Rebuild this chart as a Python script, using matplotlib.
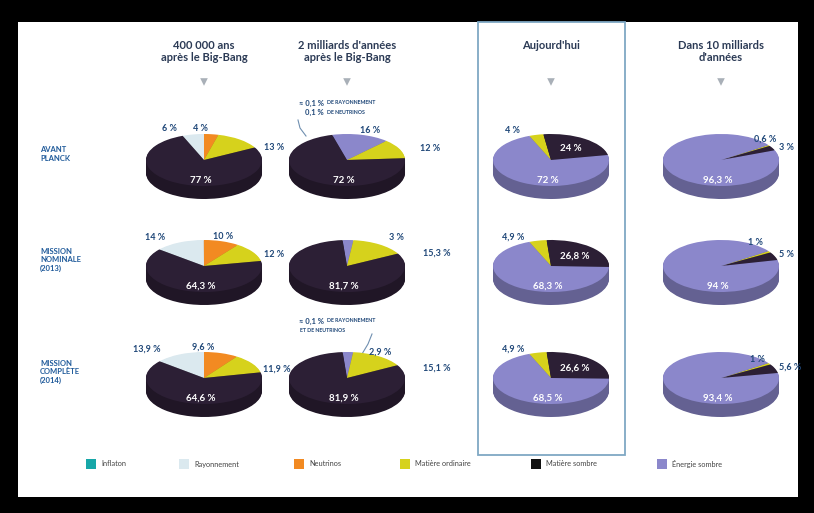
import numpy as np
import matplotlib
matplotlib.use("Agg")
import matplotlib.pyplot as plt
from matplotlib.patches import Rectangle
from matplotlib.colors import to_rgb

W, H = 814, 513

# legend order
components = ["Inflaton", "Rayonnement", "Neutrinos", "Matière ordinaire", "Matière sombre", "Énergie sombre"]
comp_colors = ["#17a7a8", "#dbe9ef", "#f28a22", "#d6d21c", "#2c1f35", "#8b87cb"]
legend_colors = ["#17a7a8", "#dbe9ef", "#f28a22", "#d6d21c", "#111111", "#8b87cb"]

periods = ["400 000 ans\naprès le Big-Bang", "2 milliards d'années\naprès le Big-Bang",
           "Aujourd'hui", "Dans 10 milliards\nd'années"]
missions = ["AVANT\nPLANCK", "MISSION\nNOMINALE\n(2013)", "MISSION\nCOMPLÈTE\n(2014)"]

# slice order (clockwise) per period
order_400k = ["Rayonnement", "Neutrinos", "Matière ordinaire", "Matière sombre"]
order_2g = ["Énergie sombre", "Matière ordinaire", "Matière sombre"]
order_now = ["Matière ordinaire", "Matière sombre", "Énergie sombre"]
order_10g = ["Matière ordinaire", "Matière sombre", "Énergie sombre"]

# values (%) per mission row
vals_400k = [[6, 4, 13, 77], [14, 10, 12, 64.3], [13.9, 9.6, 11.9, 64.6]]
vals_2g = [[16, 12, 72], [3, 15.3, 81.7], [2.9, 15.1, 81.9]]
vals_now = [[4, 24, 72], [4.9, 26.8, 68.3], [4.9, 26.6, 68.5]]
vals_10g = [[0.6, 3, 96.3], [1, 5, 94], [1, 5.6, 93.4]]

notes_2g = ["≈ 0,1 %|DE RAYONNEMENT\n0,1 %|DE NEUTRINOS", "", "≈ 0,1 %|DE RAYONNEMENT\n|ET DE NEUTRINOS"]

# layout: where the small-slice labels sit (pie radius units, from top-face centre)
lbl_400k = [[(-0.59, 1.22), (-0.07, 1.22), (1.2, 0.5)],
            [(-0.85, 1.08), (0.33, 1.15), (1.2, 0.45)],
            [(-0.98, 1.12), (-0.02, 1.18), (1.25, 0.35)]]
lbl_2g = [[(0.4, 1.15), (1.43, 0.46)],
          [(0.86, 1.08), (1.55, 0.5)],
          [(0.57, 1.0), (1.55, 0.38)]]
lbl_now = [[(-0.66, 1.15)], [(-0.66, 1.12)], [(-0.66, 1.12)]]
lbl_10g = [[(0.76, 0.8), (1.12, 0.5)],
           [(0.6, 0.92), (1.12, 0.46)],
           [(0.62, 0.7), (1.2, 0.4)]]

col_x = [204, 347, 551, 721]
row_y = [160, 266, 378]
RX, RY, DEPTH = 58, 26, 13
navy = "#1f4778"
FONT = "Lato"

fig = plt.figure(figsize=(W / 100, H / 100), dpi=100, facecolor="black")
bg = fig.add_axes([0, 0, 1, 1])
bg.set_xlim(0, W)
bg.set_ylim(H, 0)
bg.axis("off")
bg.add_patch(Rectangle((18, 22), 780, 475, facecolor="white", edgecolor="none"))
# highlighted column "Aujourd'hui"
bg.add_patch(Rectangle((478, 22), 147, 433, facecolor="none", edgecolor="#7fa8c4", lw=1.3))


def fmt(v):
    return ("%g" % v).replace(".", ",") + " %"


def pie3d(cx, cy, names, vals, start, lbl):
    aw, ah = 160, 120
    ax = fig.add_axes([(cx - aw / 2) / W, 1 - (cy + ah / 2) / H, aw / W, ah / H])
    cols = [comp_colors[components.index(n)] for n in names]
    side = [tuple(c * 0.72 for c in to_rgb(col)) for col in cols]
    d = DEPTH / RY
    nl = 16
    for k in range(nl):
        ax.pie(vals, colors=side, startangle=start, counterclock=False,
               center=(0, -d + d * k / nl), wedgeprops=dict(linewidth=0))
    ax.pie(vals, colors=cols, startangle=start, counterclock=False,
           center=(0, 0), wedgeprops=dict(linewidth=0))
    ax.set_aspect("auto")
    ax.set_xlim(-aw / 2 / RX, aw / 2 / RX)
    ax.set_ylim(-ah / 2 / RY, ah / 2 / RY)
    ax.axis("off")
    total = sum(vals)
    big = int(np.argmax(vals))
    cum = 0
    k = 0
    for i, v in enumerate(vals):
        th = np.deg2rad(start - (cum + v / 2) / total * 360)
        cum += v
        if i == big:
            ax.text(-0.05, -0.78, fmt(v), color="white", fontsize=7, fontweight="bold",
                    ha="center", va="center", family=FONT)
        elif v >= 20:
            ax.text(0.6 * np.cos(th), 0.55 * np.sin(th), fmt(v), color="white", fontsize=7,
                    fontweight="bold", ha="center", va="center", family=FONT)
        else:
            x, y = lbl[k]
            k += 1
            ax.text(x, y, fmt(v), color=navy, fontsize=6.5, fontweight="bold",
                    ha="center", va="center", family=FONT)
    return ax


for r in range(3):
    pie3d(col_x[0], row_y[r], order_400k, vals_400k[r], 90 + vals_400k[r][0] * 3.6, lbl_400k[r])
    pie3d(col_x[1], row_y[r], order_2g, vals_2g[r], 92 + vals_2g[r][0] * 0.8, lbl_2g[r])
    pie3d(col_x[2], row_y[r], order_now, vals_now[r], 112, lbl_now[r])
    pie3d(col_x[3], row_y[r], order_10g, vals_10g[r], 35, lbl_10g[r])

# headers
for x, p in zip(col_x, periods):
    bg.text(x, 40, p, ha="center", va="top", fontsize=8, fontweight="bold",
            color="#2b3a55", family=FONT, linespacing=1.15)
    bg.scatter([x], [82], marker="v", s=30, color="#a9b0b8", edgecolor="none")

# row labels
for y, m in zip(row_y, missions):
    bg.text(40, y - 6, m, ha="left", va="center", fontsize=5.5, fontweight="bold",
            color="#1f5a9a", family=FONT, linespacing=1.3)

# notes on the 2 milliards column
for r, note in enumerate(notes_2g):
    if not note:
        continue
    y0 = row_y[r] - 57
    for j, line in enumerate(note.split("\n")):
        a, b = line.split("|")
        yy = y0 + j * 9
        bg.text(324, yy, a, ha="right", va="center", fontsize=5.5, fontweight="bold",
                color=navy, family=FONT)
        bg.text(327 if a else 300, yy, b, ha="left", va="center", fontsize=3.8,
                fontweight="bold", color=navy, family=FONT)
bg.plot([298, 300, 306], [row_y[0] - 40, row_y[0] - 32, row_y[0] - 24], color="#6f8fb0", lw=0.8)
bg.plot([372, 368, 362], [row_y[2] - 44, row_y[2] - 34, row_y[2] - 24], color="#6f8fb0", lw=0.8)

# legend
leg_x = [86, 179, 294, 400, 531, 657]
for x, name, c in zip(leg_x, components, legend_colors):
    bg.add_patch(Rectangle((x, 459), 10, 10, facecolor=c, edgecolor="none"))
    bg.text(x + 15, 464, name, ha="left", va="center", fontsize=5.3, color="#444444", family=FONT)

fig.savefig("out.png", dpi=100, facecolor="black")
